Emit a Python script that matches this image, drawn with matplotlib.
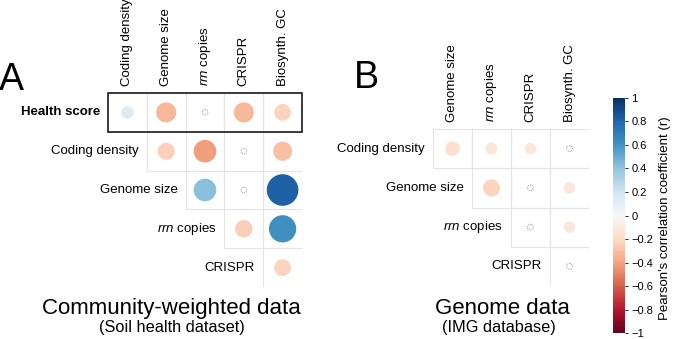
import numpy as np
import matplotlib
matplotlib.use("Agg")
import matplotlib.pyplot as plt
from matplotlib.patches import Circle, Rectangle

plt.rcParams['font.family'] = ['Liberation Sans', 'DejaVu Sans']
plt.rcParams['mathtext.fontset'] = 'custom'
plt.rcParams['mathtext.rm'] = 'Liberation Sans'
plt.rcParams['mathtext.it'] = 'Liberation Sans:italic'

nan = np.nan

# panel A: community-weighted data
rowsA = ["Health score", "Coding density", "Genome size", r"$\mathit{rrn}$ copies", "CRISPR"]
colsA = ["Coding density", "Genome size", r"$\mathit{rrn}$ copies", "CRISPR", "Biosynth. GC"]
valsA = [[0.13, -0.33, 0.0, -0.33, -0.23],
         [nan, -0.24, -0.42, 0.0, -0.30],
         [nan, nan, 0.42, 0.0, 0.82],
         [nan, nan, nan, -0.25, 0.61],
         [nan, nan, nan, nan, -0.23]]
sigA = [[1, 1, 0, 1, 1],
        [0, 1, 1, 0, 1],
        [0, 0, 1, 0, 1],
        [0, 0, 0, 1, 1],
        [0, 0, 0, 0, 1]]

# panel B: genome data
rowsB = ["Coding density", "Genome size", r"$\mathit{rrn}$ copies", "CRISPR"]
colsB = ["Genome size", r"$\mathit{rrn}$ copies", "CRISPR", "Biosynth. GC"]
valsB = [[-0.17, -0.12, -0.11, 0.0],
         [nan, -0.23, 0.0, -0.11],
         [nan, nan, 0.0, -0.11],
         [nan, nan, nan, 0.0]]
sigB = [[1, 1, 1, 0],
        [0, 1, 0, 1],
        [0, 0, 0, 1],
        [0, 0, 0, 0]]

cbar_ticks = [1, 0.8, 0.6, 0.4, 0.2, 0, -0.2, -0.4, -0.6, -0.8, -1]

W, H = 675, 339
cmap = plt.get_cmap('RdBu')
norm = matplotlib.colors.Normalize(-1, 1)

fig = plt.figure(figsize=(W / 100, H / 100), dpi=100)


def px_axes(x0, y0, x1, y1):
    # axes placed by pixel box (top-left origin)
    return fig.add_axes([x0 / W, 1 - y1 / H, (x1 - x0) / W, (y1 - y0) / H])


def corr_panel(ax, rows, cols, vals, sig, box_first=False):
    n = len(rows)
    ax.set_xlim(0, n)
    ax.set_ylim(n, 0)
    ax.axis('off')
    for i in range(n):
        for j in range(i, n):
            ax.add_patch(Rectangle((j, i), 1, 1, fc='none', ec='#e4e4e4', lw=0.8))
            v = vals[i][j]
            if sig[i][j]:
                ax.add_patch(Circle((j + 0.5, i + 0.5), 0.45 * np.sqrt(abs(v)),
                                    fc=cmap(norm(v)), ec='none'))
            else:
                ax.add_patch(Circle((j + 0.5, i + 0.5), 0.075, fc='none',
                                    ec='#8c8c8c', lw=0.6, ls=(0, (1.2, 1.2))))
        w = 'bold' if (box_first and i == 0) else 'normal'
        ax.text(i - 0.21, i + 0.5, rows[i], ha='right', va='center',
                fontsize=9.5, fontweight=w)
    for j in range(n):
        ax.text(j + 0.5, -0.17, cols[j], rotation=90, ha='center', va='bottom',
                fontsize=9.5)
    if box_first:
        ax.add_patch(Rectangle((0, 0), n, 1, fc='none', ec='#2b2b2b', lw=1.3,
                               zorder=5, clip_on=False))


axA = px_axes(108, 93, 302, 287)
corr_panel(axA, rowsA, colsA, valsA, sigA, box_first=True)

axB = px_axes(433, 129, 589, 286)
corr_panel(axB, rowsB, colsB, valsB, sigB)

# colour bar
cax = px_axes(613, 94, 625, 337)
sm = matplotlib.cm.ScalarMappable(norm=norm, cmap=cmap)
cb = fig.colorbar(sm, cax=cax, ticks=cbar_ticks)
cb.outline.set_visible(False)
cb.ax.set_ylim(-1.03, 1.03)
cb.ax.set_yticklabels([('%g' % t).replace('-', '\u2212') for t in cbar_ticks])
cb.ax.tick_params(labelsize=8, length=2.5, width=0.6, pad=2)
fig.text(665 / W, 1 - 218 / H, "Pearson's correlation coefficient (r)",
         rotation=90, ha='center', va='center', fontsize=9.5)

# panel letters and titles
fig.text(-1 / W, 1 - 90 / H, "A", fontsize=27, ha='left', va='baseline')
fig.text(354 / W, 1 - 88 / H, "B", fontsize=27, ha='left', va='baseline')
fig.text(171 / W, 1 - 314 / H, "Community-weighted data", fontsize=16,
         ha='center', va='baseline')
fig.text(172 / W, 1 - 332 / H, "(Soil health dataset)", fontsize=11.8,
         ha='center', va='baseline')
fig.text(502 / W, 1 - 314 / H, "Genome data", fontsize=16,
         ha='center', va='baseline')
fig.text(499 / W, 1 - 332 / H, "(IMG database)", fontsize=11.8,
         ha='center', va='baseline')

fig.savefig('out.png', dpi=100, facecolor='white')
